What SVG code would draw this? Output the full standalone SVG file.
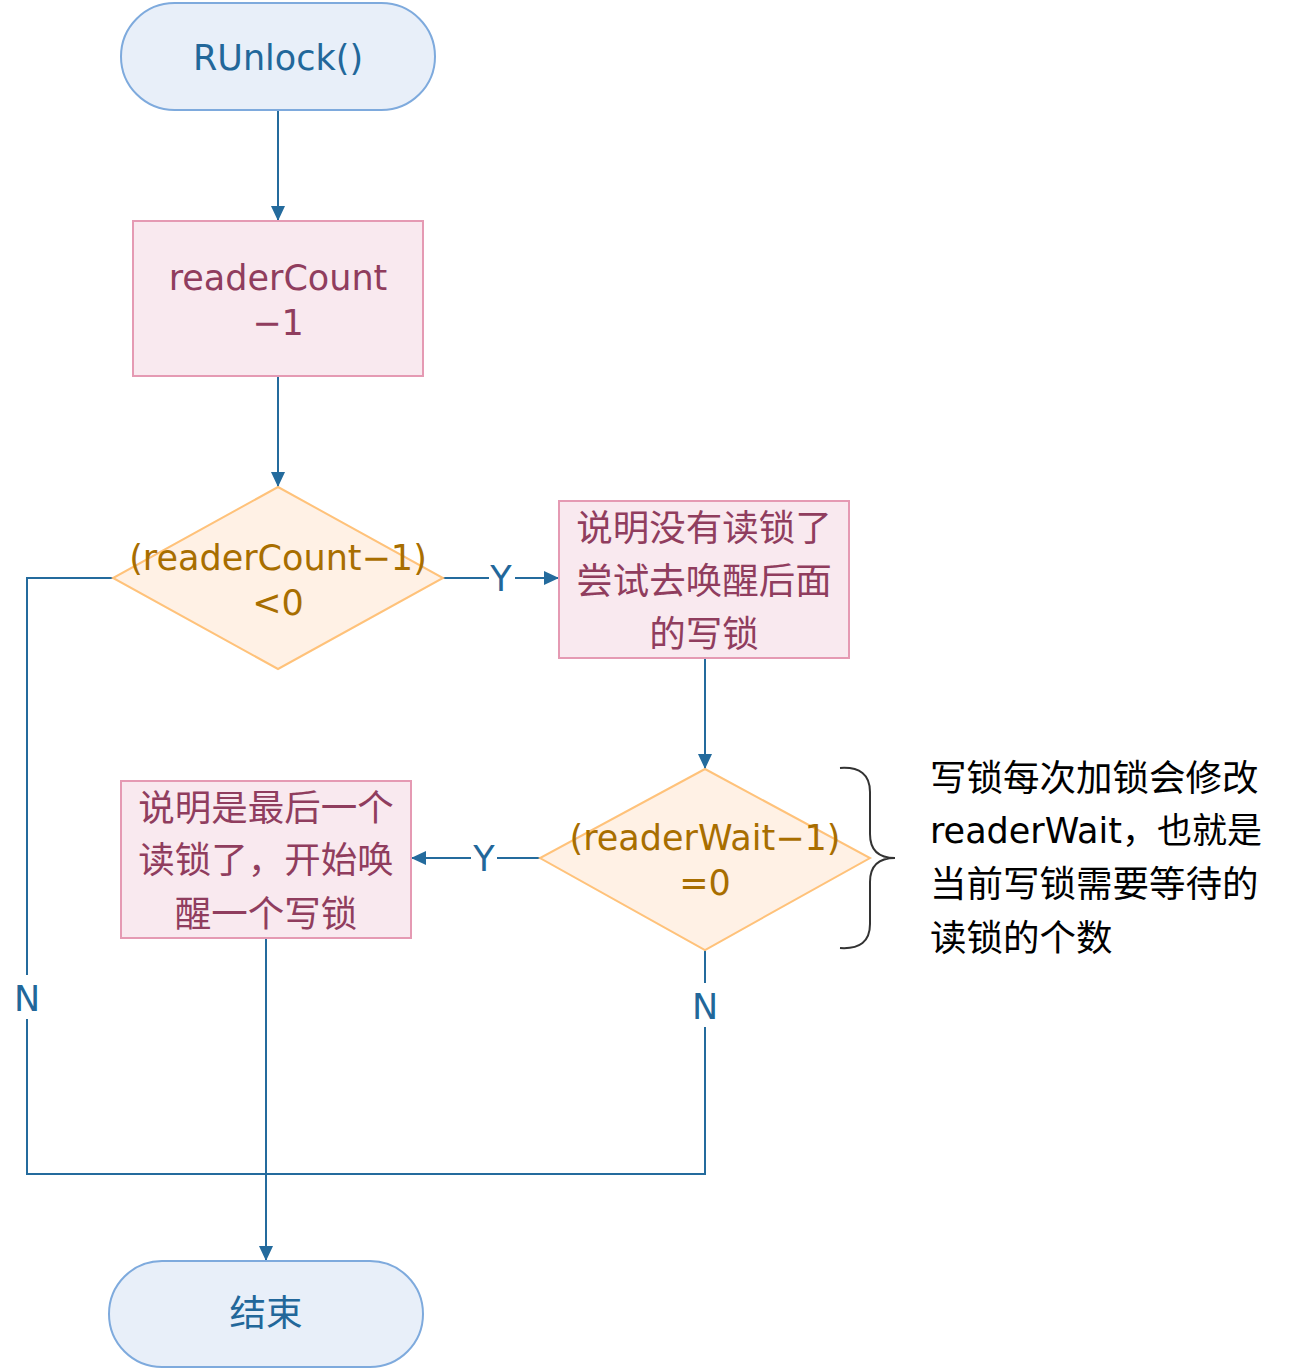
<svg xmlns="http://www.w3.org/2000/svg" width="1296" height="1368" viewBox="0 0 1296 1368">
<style>
text{font-family:"DejaVu Sans","Noto Sans CJK SC",sans-serif;font-size:35px;text-anchor:middle}
.cjk{font-size:36.5px}
.term{fill:#e8eff9;stroke:#7eaadd;stroke-width:2}
.proc{fill:#f9e9ef;stroke:#e59ab3;stroke-width:2}
.dec{fill:#fff1e5;stroke:#ffc27a;stroke-width:2}
.tb{fill:#22679a}
.tm{fill:#903d5e}
.td{fill:#a86e00}
.cn{fill:none;stroke:#246b9d;stroke-width:2}
.lbl{fill:#22679a}
.note{fill:#000;text-anchor:start}
</style>
<defs>
<marker id="ah" viewBox="0 0 15 14" refX="15" refY="7" markerWidth="15" markerHeight="14" markerUnits="userSpaceOnUse" orient="auto">
<path d="M0,0 L15,7 L0,14 Z" fill="#246b9d"/>
</marker>
</defs>
<g id="connectors">
<path class="cn" d="M278,110 V221" marker-end="url(#ah)"/>
<path class="cn" d="M278,376 V487" marker-end="url(#ah)"/>
<path class="cn" d="M443,578 H489"/>
<path class="cn" d="M515,578 H559" marker-end="url(#ah)"/>
<path class="cn" d="M705,658 V769" marker-end="url(#ah)"/>
<path class="cn" d="M540,858 H497"/>
<path class="cn" d="M471,858 H411" marker-end="url(#ah)"/>
<path class="cn" d="M266,938 V1261" marker-end="url(#ah)"/>
<path class="cn" d="M113,578 H27 V975"/>
<path class="cn" d="M27,1019 V1174 H705 V1027"/>
<path class="cn" d="M705,950 V983"/>
<text class="lbl" x="501" y="591">Y</text>
<text class="lbl" x="484" y="871">Y</text>
<text class="lbl" x="27" y="1011">N</text>
<text class="lbl" x="705" y="1019">N</text>
</g>
<g id="start">
<rect class="term" x="121" y="3" width="314" height="107" rx="53.5"/>
<text class="tb" x="278" y="70">RUnlock()</text>
</g>
<g id="dec-count">
<rect class="proc" x="133" y="221" width="290" height="155"/>
<text class="tm" x="278" y="290">readerCount</text>
<text class="tm" x="278" y="335">−1</text>
</g>
<g id="check-count">
<path class="dec" d="M278,487 L443,578 L278,669 L113,578 Z"/>
<text class="td" x="278" y="570">(readerCount−1)</text>
<text class="td" x="278" y="615">&lt;0</text>
</g>
<g id="try-wake">
<rect class="proc" x="559" y="501" width="290" height="157"/>
<text class="tm cjk" x="704" y="541">说明没有读锁了</text>
<text class="tm cjk" x="704" y="594">尝试去唤醒后面</text>
<text class="tm cjk" x="704" y="647">的写锁</text>
</g>
<g id="check-wait">
<path class="dec" d="M705,769 L870,858 L705,950 L540,858 Z"/>
<text class="td" x="705" y="850">(readerWait−1)</text>
<text class="td" x="705" y="895">=0</text>
</g>
<g id="wake-writer">
<rect class="proc" x="121" y="781" width="290" height="157"/>
<text class="tm cjk" x="266" y="821">说明是最后一个</text>
<text class="tm cjk" x="266" y="873">读锁了，开始唤</text>
<text class="tm cjk" x="266" y="927">醒一个写锁</text>
</g>
<g id="end">
<rect class="term" x="109" y="1261" width="314" height="106" rx="53"/>
<text class="tb cjk" x="266" y="1326">结束</text>
</g>
<g id="note">
<path d="M840,768 Q870,766 870,792 L870,834 Q870,858 895,858 Q870,858 870,882 L870,924 Q870,950 840,948" fill="none" stroke="#333" stroke-width="2"/>
<text class="note cjk" x="930" y="791">写锁每次加锁会修改</text>
<text class="note" x="930" y="843">readerWait，也就是</text>
<text class="note cjk" x="930" y="897">当前写锁需要等待的</text>
<text class="note cjk" x="930" y="951">读锁的个数</text>
</g>
</svg>
